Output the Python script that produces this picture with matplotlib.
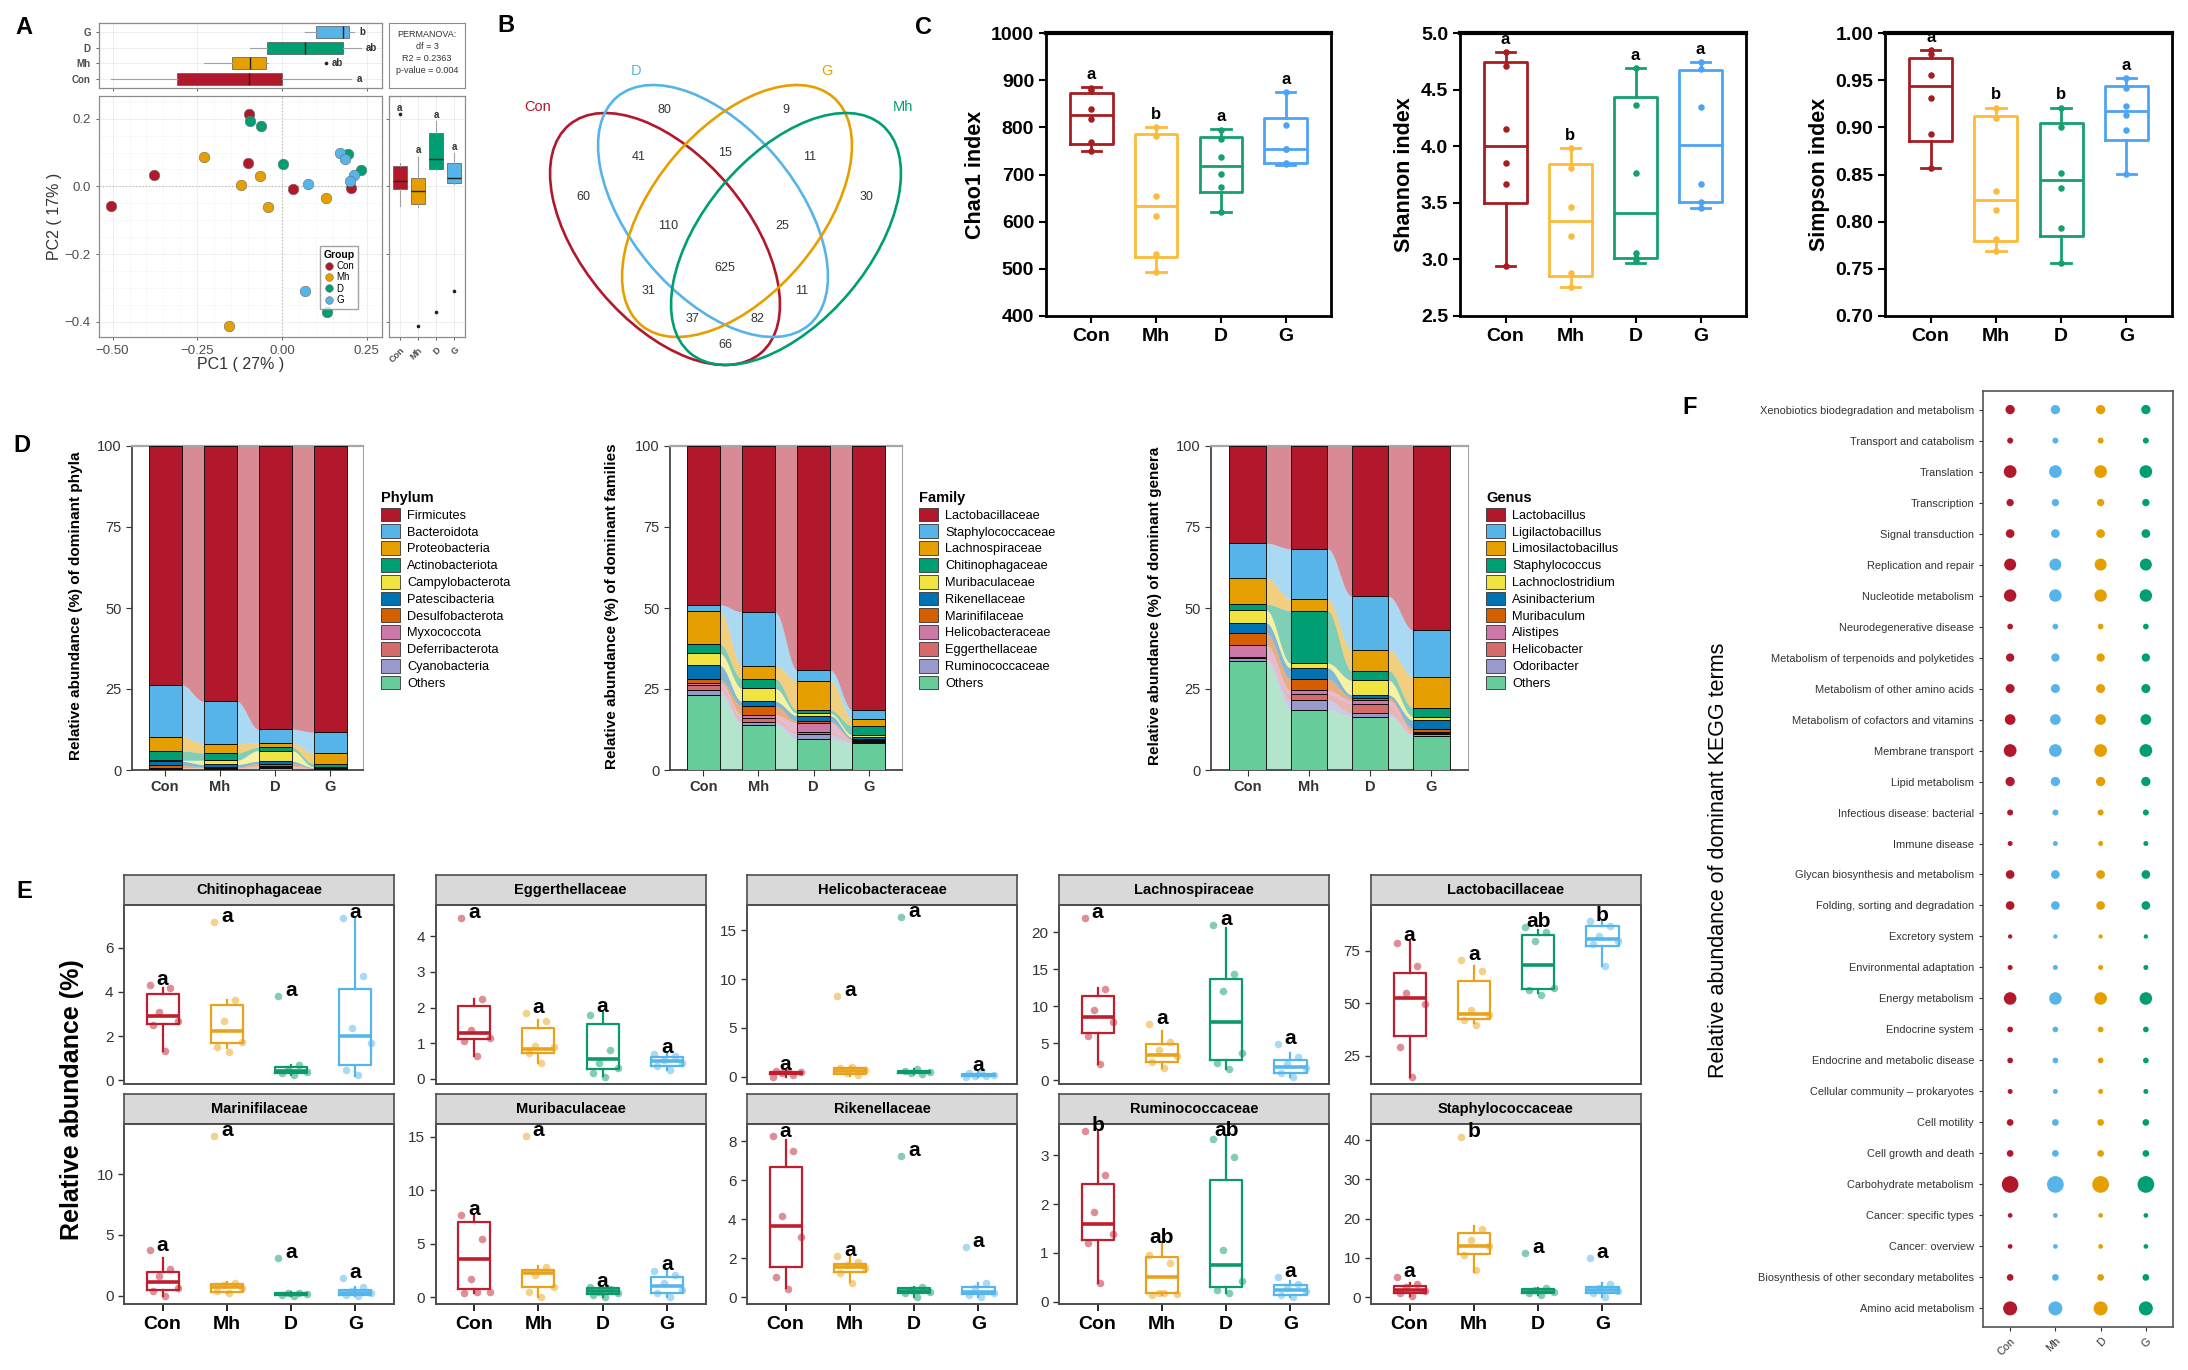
import numpy as np
import matplotlib
matplotlib.use("Agg")
import matplotlib.pyplot as plt
from matplotlib.patches import Ellipse, Patch
from matplotlib.lines import Line2D
from matplotlib.ticker import FuncFormatter

W, H = 2188, 1370
GROUPS = ["Con", "Mh", "D", "G"]

# ---------------- A: PCoA scores ----------------
PC1 = {"Con": [-0.097, -0.099, -0.379, -0.504, 0.032, 0.205],
       "Mh": [-0.231, -0.066, -0.120, -0.042, 0.131, -0.157],
       "D": [-0.093, -0.061, 0.004, 0.194, 0.232, 0.133],
       "G": [0.171, 0.186, 0.212, 0.202, 0.078, 0.069]}
PC2 = {"Con": [0.215, 0.070, 0.035, -0.057, -0.007, -0.005],
       "Mh": [0.088, 0.031, 0.004, -0.060, -0.033, -0.413],
       "D": [0.192, 0.179, 0.065, 0.096, 0.047, -0.370],
       "G": [0.098, 0.081, 0.034, 0.016, 0.008, -0.309]}
PC1_SIG = {"Con": "a", "Mh": "ab", "D": "ab", "G": "b"}
PC2_SIG = {"Con": "a", "Mh": "a", "D": "a", "G": "a"}
PERMANOVA = "PERMANOVA:\ndf = 3\nR2 = 0.2363\np-value = 0.004"

# ---------------- B: Venn ----------------
VENN_SETS = ["Con", "D", "G", "Mh"]
VENN_COUNTS = {"Con": 60, "D": 80, "G": 9, "Mh": 30,
               "Con&D": 41, "D&G": 15, "G&Mh": 11, "Con&D&G": 110,
               "D&G&Mh": 25, "all": 625, "Con&G": 31, "D&Mh": 11,
               "Con&G&Mh": 37, "Con&D&Mh": 82, "Con&Mh": 66}

# ---------------- C: alpha diversity (lo, q1, med, q3, hi) ----------------
CHAO1_BOX = [(749, 765, 826, 873, 886), (493, 525, 634, 785, 801),
             (620, 662, 718, 780, 796), (720, 725, 755, 820, 875)]
CHAO1_PTS = [[884, 879, 838, 817, 768, 750], [801, 782, 654, 613, 532, 493],
             [794, 775, 738, 701, 673, 620], [875, 804, 755, 754, 725, 722]]
CHAO1_SIG = ["a", "b", "a", "a"]
SHANNON_BOX = [(2.94, 3.50, 4.006, 4.741, 4.832), (2.76, 2.853, 3.34, 3.847, 3.985),
               (2.97, 3.015, 3.41, 4.435, 4.69), (3.45, 3.51, 4.01, 4.67, 4.74)]
SHANNON_PTS = [[4.83, 4.71, 4.15, 3.85, 3.67, 2.94], [3.98, 3.81, 3.46, 3.21, 2.88, 2.76],
               [4.69, 4.36, 3.76, 3.06, 3.01, 2.99], [4.74, 4.68, 4.35, 3.67, 3.51, 3.45]]
SHANNON_SIG = ["a", "b", "a", "a"]
SIMPSON_BOX = [(0.857, 0.885, 0.944, 0.974, 0.982), (0.769, 0.780, 0.823, 0.912, 0.921),
               (0.756, 0.785, 0.844, 0.905, 0.921), (0.851, 0.887, 0.917, 0.944, 0.952)]
SIMPSON_PTS = [[0.982, 0.978, 0.956, 0.931, 0.893, 0.857], [0.921, 0.910, 0.832, 0.812, 0.782, 0.769],
               [0.921, 0.900, 0.852, 0.836, 0.793, 0.756], [0.952, 0.942, 0.923, 0.913, 0.897, 0.851]]
SIMPSON_SIG = ["a", "b", "b", "a"]

# ---------------- D: composition (%) ----------------
PHYLA = ["Firmicutes", "Bacteroidota", "Proteobacteria", "Actinobacteriota",
         "Campylobacterota", "Patescibacteria", "Desulfobacterota", "Myxococcota",
         "Deferribacterota", "Cyanobacteria", "Others"]
PHYLUM_ABUND = {"Con": [73.7, 16.0, 4.4, 2.9, 0.3, 1.2, 0.9, 0.1, 0.2, 0.1, 0.2],
                "Mh": [78.8, 13.1, 2.8, 2.3, 1.3, 0.8, 0.3, 0.1, 0.1, 0.1, 0.3],
                "D": [87.4, 4.3, 1.3, 1.0, 3.3, 0.7, 0.8, 0.2, 0.3, 0.1, 0.6],
                "G": [88.3, 6.5, 3.2, 1.0, 0.2, 0.2, 0.1, 0.1, 0.1, 0.1, 0.2]}
FAMILIES = ["Lactobacillaceae", "Staphylococcaceae", "Lachnospiraceae", "Chitinophagaceae",
            "Muribaculaceae", "Rikenellaceae", "Marinifilaceae", "Helicobacteraceae",
            "Eggerthellaceae", "Ruminococcaceae", "Others"]
FAMILY_ABUND = {"Con": [49.0, 2.0, 10.2, 2.8, 3.7, 4.3, 1.0, 0.7, 1.6, 1.5, 23.2],
                "Mh": [51.2, 16.6, 4.0, 3.0, 4.0, 1.4, 2.8, 1.0, 1.2, 0.8, 14.0],
                "D": [69.2, 3.3, 9.0, 1.0, 0.7, 1.8, 0.5, 2.7, 0.8, 1.5, 9.5],
                "G": [81.5, 2.9, 2.0, 2.8, 0.7, 0.6, 0.3, 0.2, 0.5, 0.3, 8.2]}
GENERA = ["Lactobacillus", "Ligilactobacillus", "Limosilactobacillus", "Staphylococcus",
          "Lachnoclostridium", "Asinibacterium", "Muribaculum", "Alistipes",
          "Helicobacter", "Odoribacter", "Others"]
GENUS_ABUND = {"Con": [30.0, 10.8, 8.0, 1.8, 4.0, 3.1, 3.7, 3.6, 0.4, 1.1, 33.5],
               "Mh": [31.7, 15.5, 3.6, 16.2, 1.5, 3.4, 3.5, 1.2, 1.8, 3.0, 18.6],
               "D": [46.4, 16.6, 6.4, 2.9, 4.5, 0.9, 0.8, 1.0, 3.0, 1.0, 16.5],
               "G": [56.8, 14.4, 9.6, 2.7, 1.1, 2.6, 1.0, 0.3, 0.5, 0.4, 10.6]}

# ---------------- E: family boxplots ----------------
E_FAMILIES = ["Chitinophagaceae", "Eggerthellaceae", "Helicobacteraceae", "Lachnospiraceae",
              "Lactobacillaceae", "Marinifilaceae", "Muribaculaceae", "Rikenellaceae",
              "Ruminococcaceae", "Staphylococcaceae"]
E_BOX = {
    "Chitinophagaceae": [(1.32, 2.55, 2.92, 3.92, 4.2), (1.44, 1.70, 2.22, 3.42, 3.65),
                         (0.23, 0.30, 0.42, 0.58, 0.68), (0.18, 0.68, 2.0, 4.15, 7.37)],
    "Eggerthellaceae": [(0.65, 1.13, 1.28, 2.03, 2.24), (0.44, 0.72, 0.84, 1.44, 1.66),
                        (0.08, 0.27, 0.56, 1.55, 1.89), (0.25, 0.37, 0.49, 0.61, 0.72)],
    "Helicobacteraceae": [(0.0, 0.25, 0.4, 0.5, 0.65), (0.1, 0.25, 0.55, 0.85, 1.0),
                          (0.25, 0.35, 0.45, 0.6, 0.75), (0.0, 0.05, 0.15, 0.3, 0.45)],
    "Lachnospiraceae": [(2.2, 6.33, 8.6, 11.4, 12.4), (1.58, 2.49, 3.39, 4.84, 6.7),
                        (1.45, 2.71, 7.92, 13.7, 20.6), (0.36, 0.90, 1.81, 2.71, 3.6)],
    "Lactobacillaceae": [(15.0, 34.4, 52.2, 64.3, 79.5), (40.4, 42.4, 44.9, 60.4, 67.8),
                         (54.8, 56.8, 68.3, 82.2, 84.7), (67.8, 77.1, 80.3, 86.6, 89.0)],
    "Marinifilaceae": [(0.0, 0.49, 1.18, 2.0, 3.1), (0.22, 0.36, 0.77, 0.99, 1.18),
                       (0.0, 0.08, 0.16, 0.27, 0.3), (0.0, 0.08, 0.27, 0.49, 0.77)],
    "Muribaculaceae": [(0.37, 0.78, 3.56, 7.03, 7.7), (0.06, 1.0, 2.25, 2.56, 2.88),
                       (0.06, 0.31, 0.63, 0.84, 1.0), (0.06, 0.37, 1.06, 1.94, 2.56)],
    "Rikenellaceae": [(0.46, 1.58, 3.66, 6.71, 8.08), (0.80, 1.32, 1.54, 1.71, 2.09),
                      (0.03, 0.21, 0.34, 0.50, 0.51), (0.03, 0.17, 0.29, 0.55, 0.75)],
    "Ruminococcaceae": [(0.38, 1.27, 1.59, 2.42, 3.49), (0.14, 0.17, 0.51, 0.92, 1.2),
                        (0.17, 0.29, 0.74, 2.49, 3.39), (0.10, 0.14, 0.24, 0.34, 0.43)],
    "Staphylococcaceae": [(0.34, 1.0, 1.86, 2.9, 3.56), (6.5, 11.0, 13.0, 16.4, 18.0),
                          (0.6, 1.0, 1.44, 2.0, 2.3), (0.17, 1.0, 1.86, 2.7, 3.56)],
}
E_PTS = {
    "Chitinophagaceae": [[4.3, 4.18, 3.1, 2.66, 2.5, 1.32], [7.19, 3.65, 2.7, 1.75, 1.52, 1.29],
                         [3.83, 0.68, 0.49, 0.38, 0.30, 0.23], [7.37, 4.74, 2.36, 1.67, 0.46, 0.23]],
    "Eggerthellaceae": [[4.52, 2.24, 1.36, 1.14, 1.05, 0.63], [1.85, 1.61, 0.93, 0.89, 0.72, 0.44],
                        [1.80, 0.80, 0.44, 0.30, 0.16, 0.05], [0.70, 0.63, 0.53, 0.44, 0.35, 0.25]],
    "Helicobacteraceae": [[0.0, 0.2, 0.35, 0.45, 0.55, 0.65], [8.3, 0.15, 0.4, 0.7, 0.9, 1.0],
                          [16.4, 0.25, 0.4, 0.5, 0.6, 0.75], [0.0, 0.05, 0.1, 0.2, 0.35, 0.55]],
    "Lachnospiraceae": [[21.9, 12.3, 9.5, 7.8, 5.9, 2.2], [7.6, 5.2, 4.0, 3.2, 2.5, 1.6],
                        [21.0, 14.3, 12.1, 3.7, 2.26, 1.45], [4.84, 3.17, 2.17, 1.58, 0.9, 0.36]],
    "Lactobacillaceae": [[78.7, 67.5, 54.8, 49.7, 29.3, 15.0], [70.4, 65.1, 46.8, 44.4, 42.0, 39.6],
                         [86.3, 83.8, 79.5, 57.2, 56.1, 54.0], [89.0, 86.6, 81.8, 79.5, 77.9, 67.8]],
    "Marinifilaceae": [[3.73, 2.19, 1.64, 0.63, 0.44, 0.0], [13.1, 1.1, 0.9, 0.63, 0.44, 0.22],
                       [3.1, 0.27, 0.22, 0.16, 0.08, 0.0], [1.45, 0.77, 0.44, 0.22, 0.08, 0.0]],
    "Muribaculaceae": [[7.72, 5.44, 1.69, 0.53, 0.37, 0.45], [15.1, 2.8, 2.1, 1.0, 0.53, 0.06],
                       [1.0, 0.75, 0.53, 0.37, 0.22, 0.06], [2.5, 2.1, 1.31, 0.69, 0.37, 0.06]],
    "Rikenellaceae": [[8.25, 7.48, 4.18, 3.07, 1.06, 0.41], [2.12, 1.83, 1.66, 1.49, 1.23, 0.75],
                      [7.23, 0.51, 0.38, 0.29, 0.21, 0.03], [2.57, 0.75, 0.46, 0.21, 0.12, 0.03]],
    "Ruminococcaceae": [[3.49, 2.60, 1.83, 1.39, 1.21, 0.38], [0.96, 0.79, 0.17, 0.16, 0.14, 0.17],
                        [3.34, 2.97, 1.05, 0.43, 0.24, 0.17], [0.51, 0.36, 0.27, 0.21, 0.14, 0.10]],
    "Staphylococcaceae": [[5.25, 3.4, 2.7, 1.7, 1.0, 0.34], [40.8, 17.3, 14.6, 12.9, 10.8, 6.9],
                          [11.2, 2.3, 1.86, 1.44, 1.0, 0.6], [9.9, 3.4, 2.3, 1.6, 1.0, 0.17]],
}
E_SIG = {
    "Chitinophagaceae": ["a", "a", "a", "a"], "Eggerthellaceae": ["a", "a", "a", "a"],
    "Helicobacteraceae": ["a", "a", "a", "a"], "Lachnospiraceae": ["a", "a", "a", "a"],
    "Lactobacillaceae": ["a", "a", "ab", "b"], "Marinifilaceae": ["a", "a", "a", "a"],
    "Muribaculaceae": ["a", "a", "a", "a"], "Rikenellaceae": ["a", "a", "a", "a"],
    "Ruminococcaceae": ["b", "ab", "ab", "a"], "Staphylococcaceae": ["a", "b", "a", "a"],
}
E_YLIM = {"Chitinophagaceae": (-0.18, 7.95), "Eggerthellaceae": (-0.14, 4.87),
          "Helicobacteraceae": (-0.76, 17.6), "Lachnospiraceae": (-0.54, 23.7),
          "Lactobacillaceae": (11.5, 96.7), "Marinifilaceae": (-0.66, 14.1),
          "Muribaculaceae": (-0.63, 16.2), "Rikenellaceae": (-0.34, 8.89),
          "Ruminococcaceae": (-0.05, 3.64), "Staphylococcaceae": (-1.7, 44.0)}
E_TICKS = {"Chitinophagaceae": [0, 2, 4, 6], "Eggerthellaceae": [0, 1, 2, 3, 4],
           "Helicobacteraceae": [0, 5, 10, 15], "Lachnospiraceae": [0, 5, 10, 15, 20],
           "Lactobacillaceae": [25, 50, 75], "Marinifilaceae": [0, 5, 10],
           "Muribaculaceae": [0, 5, 10, 15], "Rikenellaceae": [0, 2, 4, 6, 8],
           "Ruminococcaceae": [0, 1, 2, 3], "Staphylococcaceae": [0, 10, 20, 30, 40]}

# ---------------- F: KEGG level 2 (bottom to top) ----------------
KEGG_TERMS = ["Amino acid metabolism", "Biosynthesis of other secondary metabolites",
              "Cancer: overview", "Cancer: specific types", "Carbohydrate metabolism",
              "Cell growth and death", "Cell motility", "Cellular community \u2013 prokaryotes",
              "Endocrine and metabolic disease", "Endocrine system", "Energy metabolism",
              "Environmental adaptation", "Excretory system", "Folding, sorting and degradation",
              "Glycan biosynthesis and metabolism", "Immune disease", "Infectious disease: bacterial",
              "Lipid metabolism", "Membrane transport", "Metabolism of cofactors and vitamins",
              "Metabolism of other amino acids", "Metabolism of terpenoids and polyketides",
              "Neurodegenerative disease", "Nucleotide metabolism", "Replication and repair",
              "Signal transduction", "Transcription", "Translation", "Transport and catabolism",
              "Xenobiotics biodegradation and metabolism"]
KEGG_ABUND = [7.6, 1.74, 0.85, 0.85, 10.8, 1.74, 1.74, 0.97, 1.26, 1.26, 6.1, 0.97, 0.72,
              2.9, 2.93, 0.97, 1.40, 3.35, 6.3, 4.43, 3.14, 2.67, 1.26, 6.0, 5.58, 2.93,
              2.07, 6.25, 1.40, 3.35]

# ---------------- colours ----------------
A_COL = {"Con": "#B2182B", "Mh": "#E69F00", "D": "#009E73", "G": "#56B4E9"}
VENN_COL = {"Con": "#B2182B", "D": "#56B4E9", "G": "#E69F00", "Mh": "#009E73"}
C_COL = ["#A51E22", "#FDBA3B", "#15A06C", "#4DA3F5"]
E_COL = ["#BF1E2E", "#E9A21B", "#0C9A6B", "#55B6EC"]
F_COL = ["#B2182B", "#56B4E9", "#E69F00", "#009E73"]
TAXA_COL = ["#B2182B", "#56B4E9", "#E69F00", "#009E73", "#F0E442", "#0072B2",
            "#D55E00", "#CC79A7", "#D46A6A", "#9999CC", "#66CC99"]

plt.rcParams["font.family"] = ["Liberation Sans", "DejaVu Sans"]


def px_axes(fig, x0, y0, x1, y1):
    return fig.add_axes([x0 / W, 1 - y1 / H, (x1 - x0) / W, (y1 - y0) / H])


def minus_fmt(fmt):
    return FuncFormatter(lambda v, p: format(v, fmt).replace("-", "\u2212"))


def panel_label(fig, x, y, s):
    fig.text(x / W, 1 - y / H, s, fontsize=17, fontweight="bold", ha="center", va="center")


def bw_style(ax):
    for s in ax.spines.values():
        s.set_color("#8C8C8C")
        s.set_linewidth(0.9)
    ax.grid(True, color="#EBEBEB", linewidth=0.6)
    ax.set_axisbelow(True)
    ax.tick_params(colors="#4D4D4D", labelsize=8.5, length=2.5, width=0.6)


def draw_panel_a(fig):
    xlim = (-0.540, 0.295)
    ylim = (-0.445, 0.267)
    pos = np.arange(1, 5)

    top = px_axes(fig, 99, 23, 382, 88)
    bw_style(top)
    for i, g in enumerate(GROUPS):
        top.boxplot([PC1[g]], positions=[pos[i]], orientation="horizontal", widths=0.8,
                    patch_artist=True, showcaps=False,
                    boxprops=dict(facecolor=A_COL[g], edgecolor="#555555", linewidth=0.5),
                    medianprops=dict(color="#222222", linewidth=1.0),
                    whiskerprops=dict(color="#A0A0A0", linewidth=0.8),
                    flierprops=dict(marker="o", markersize=1.6, markerfacecolor="#222222",
                                    markeredgecolor="#222222"))
        top.text(max(PC1[g]) + 0.015, pos[i], PC1_SIG[g], fontsize=7, fontweight="bold",
                 ha="left", va="center", color="#333333")
    top.set_xlim(xlim)
    top.set_ylim(0.4, 4.6)
    top.set_yticks(pos)
    top.set_yticklabels(GROUPS, fontsize=7, fontweight="bold")
    top.set_xticks([-0.5, -0.25, 0, 0.25])
    top.set_xticklabels([])

    perm = px_axes(fig, 389, 23, 465, 88)
    for s in perm.spines.values():
        s.set_color("#8C8C8C")
    perm.set_xticks([])
    perm.set_yticks([])
    perm.text(0.5, 0.55, PERMANOVA, ha="center", va="center", fontsize=6.5,
              linespacing=1.45, color="#333333", transform=perm.transAxes)

    sc = px_axes(fig, 99, 96, 382, 337)
    bw_style(sc)
    sc.minorticks_on()
    sc.grid(True, which="minor", color="#F4F4F4", linewidth=0.4)
    sc.tick_params(which="minor", length=0)
    sc.axhline(0, color="#BDBDBD", linestyle=":", linewidth=0.9, zorder=1)
    sc.axvline(0, color="#BDBDBD", linestyle=":", linewidth=0.9, zorder=1)
    for g in GROUPS:
        sc.scatter(PC1[g], PC2[g], s=58, color=A_COL[g], edgecolor="#6E6E6E",
                   linewidth=0.4, zorder=3)
    sc.set_xlim(xlim)
    sc.set_ylim(ylim)
    sc.set_xticks([-0.5, -0.25, 0, 0.25])
    sc.set_yticks([0.2, 0.0, -0.2, -0.4])
    sc.xaxis.set_major_formatter(minus_fmt(".2f"))
    sc.yaxis.set_major_formatter(minus_fmt(".1f"))
    sc.tick_params(labelsize=9.5)
    sc.set_xlabel("PC1 ( 27% )", fontsize=11.5, color="#333333", labelpad=0)
    sc.set_ylabel("PC2 ( 17% )", fontsize=11.5, color="#333333", labelpad=2)
    handles = [Line2D([], [], marker="o", linestyle="", markersize=5.5, markerfacecolor=A_COL[g],
                      markeredgecolor="#6E6E6E", markeredgewidth=0.4, label=g) for g in GROUPS]
    leg = sc.legend(handles=handles, title="Group", loc="lower right",
                    bbox_to_anchor=(0.934, 0.095), fontsize=7, title_fontsize=7.5,
                    frameon=True, fancybox=False, edgecolor="#8C8C8C", borderpad=0.4,
                    handletextpad=0.1, labelspacing=0.15, handlelength=1.2)
    leg.get_title().set_fontweight("bold")
    leg._legend_box.align = "left"

    rb = px_axes(fig, 389, 96, 465, 337)
    bw_style(rb)
    for i, g in enumerate(GROUPS):
        rb.boxplot([PC2[g]], positions=[pos[i]], widths=0.75, patch_artist=True, showcaps=False,
                   boxprops=dict(facecolor=A_COL[g], edgecolor="#555555", linewidth=0.5),
                   medianprops=dict(color="#222222", linewidth=1.0),
                   whiskerprops=dict(color="#A0A0A0", linewidth=0.8),
                   flierprops=dict(marker="o", markersize=1.6, markerfacecolor="#222222",
                                   markeredgecolor="#222222"))
        rb.text(pos[i], max(PC2[g]) + 0.018, PC2_SIG[g], fontsize=7, fontweight="bold",
                ha="center", va="center", color="#333333")
    rb.set_xlim(0.4, 4.6)
    rb.set_ylim(ylim)
    rb.set_yticks([0.2, 0.0, -0.2, -0.4])
    rb.set_yticklabels([])
    rb.set_xticks(pos)
    rb.set_xticklabels(GROUPS, rotation=45, fontsize=6.5, fontweight="bold",
                       ha="right", rotation_mode="anchor")


def draw_panel_b(fig):
    ax = px_axes(fig, 500, 30, 950, 400)
    ax.set_xlim(500, 950)
    ax.set_ylim(400, 30)
    ax.axis("off")
    centres = {"Con": (665, 239, 50), "D": (713, 211, 50), "G": (737, 211, -50), "Mh": (786, 239, -50)}
    for name in VENN_SETS:
        cx, cy, ang = centres[name]
        ax.add_patch(Ellipse((cx, cy), 298, 166, angle=ang, fill=False,
                             edgecolor=VENN_COL[name], linewidth=1.9))
    name_pos = {"Con": (538, 107), "D": (636, 71), "G": (827, 71), "Mh": (903, 107)}
    for name in VENN_SETS:
        ax.text(*name_pos[name], name, color=VENN_COL[name], fontsize=10.5, ha="center", va="center")
    count_pos = {"Con": (583, 197), "D": (664, 110), "G": (786, 110), "Mh": (867, 197),
                 "Con&D": (639, 157), "D&G": (725, 153), "G&Mh": (810, 157),
                 "Con&D&G": (668, 226), "D&G&Mh": (782, 226), "all": (725, 268),
                 "Con&G": (648, 291), "D&Mh": (802, 291), "Con&G&Mh": (692, 319),
                 "Con&D&Mh": (757, 319), "Con&Mh": (725, 345)}
    for key, n in VENN_COUNTS.items():
        ax.text(*count_pos[key], str(n), fontsize=9, ha="center", va="center", color="#333333")


def draw_alpha(fig, x0, x1, boxes, pts, sig, ylim, yticks, fmt, ylabel):
    ax = px_axes(fig, x0, 33, x1, 316)
    stats = [dict(whislo=b[0], q1=b[1], med=b[2], q3=b[3], whishi=b[4], fliers=[]) for b in boxes]
    pos = np.arange(1, 5)
    rng = ylim[1] - ylim[0]
    for i in range(4):
        c = C_COL[i]
        ax.bxp([stats[i]], positions=[pos[i]], widths=0.66, capwidths=0.3,
               boxprops=dict(color=c, linewidth=2.0), medianprops=dict(color=c, linewidth=2.0),
               whiskerprops=dict(color=c, linewidth=2.0), capprops=dict(color=c, linewidth=2.0))
        ax.scatter([pos[i]] * len(pts[i]), pts[i], s=22, color=c, zorder=4, linewidths=0)
        ax.text(pos[i], boxes[i][4] + 0.045 * rng, sig[i], ha="center", va="center",
                fontsize=12, fontweight="bold")
    ax.set_xlim(0.3, 4.7)
    ax.set_ylim(ylim)
    ax.set_yticks(yticks)
    ax.yaxis.set_major_formatter(FuncFormatter(lambda v, p: format(v, fmt)))
    ax.set_xticks(pos)
    ax.set_xticklabels(GROUPS)
    for s in ax.spines.values():
        s.set_linewidth(2.0)
        s.set_color("black")
    ax.spines["top"].set_linewidth(3.0)
    ax.tick_params(width=1.5, length=5, labelsize=14)
    for lab in ax.get_xticklabels() + ax.get_yticklabels():
        lab.set_fontweight("bold")
    ax.set_ylabel(ylabel, fontsize=15.5, fontweight="bold", labelpad=4)
    return ax


def draw_stack(fig, x0, x1, taxa, abund, title, ylabel, label_x, leg_x):
    ax = px_axes(fig, x0, 446, x1, 770)
    x = np.arange(1, 5)
    width = 0.6
    vals = np.array([abund[g] for g in GROUPS]).T  # taxa x groups
    bottoms = np.zeros(4)
    lows, highs = [], []
    for k in range(len(taxa) - 1, -1, -1):
        v = vals[k]
        ax.bar(x, v, width, bottom=bottoms, color=TAXA_COL[k], edgecolor="black",
               linewidth=0.6, zorder=3)
        lows.append((k, bottoms.copy()))
        highs.append(bottoms + v)
        bottoms = bottoms + v
    tt = np.linspace(0, 1, 50)
    ease = (1 - np.cos(np.pi * tt)) / 2
    for i in range(3):
        xs = x[i] + width / 2 + (1 - width) * tt
        for (k, lo), hi in zip(lows, highs):
            ylo = lo[i] + (lo[i + 1] - lo[i]) * ease
            yhi = hi[i] + (hi[i + 1] - hi[i]) * ease
            ax.fill_between(xs, ylo, yhi, color=TAXA_COL[k], alpha=0.5, linewidth=0, zorder=2)
    ax.set_xlim(0.4, 4.6)
    ax.set_ylim(0, 100)
    ax.set_yticks([0, 25, 50, 75, 100])
    ax.set_xticks(x)
    ax.set_xticklabels(GROUPS, fontweight="bold", fontsize=10.5)
    ax.tick_params(labelsize=10.5, length=4, width=0.8, colors="#333333")
    for lab in ax.get_xticklabels():
        lab.set_fontweight("bold")
    ax.spines["left"].set_color("#444444")
    ax.spines["bottom"].set_color("#444444")
    ax.spines["left"].set_linewidth(1.3)
    ax.spines["bottom"].set_linewidth(1.3)
    ax.spines["top"].set_color("#A6A6A6")
    ax.spines["right"].set_color("#A6A6A6")
    ax.spines["top"].set_linewidth(1.6)
    fig.text(label_x / W, 1 - 606 / H, ylabel, rotation=90, fontsize=11, fontweight="bold",
             ha="center", va="center")
    handles = [Patch(facecolor=TAXA_COL[k], edgecolor="#333333", linewidth=0.6, label=t)
               for k, t in enumerate(taxa)]
    leg = fig.legend(handles=handles, title=title, loc="upper left",
                     bbox_to_anchor=(leg_x / W, 1 - 491 / H), frameon=False, fontsize=9.2,
                     title_fontsize=10.5, borderpad=0, borderaxespad=0, handlelength=1.45,
                     handleheight=1.3, labelspacing=0.2, handletextpad=0.6)
    leg.get_title().set_fontweight("bold")
    leg._legend_box.align = "left"


def draw_family_box(fig, fam, x0, y_strip, y0, y1, bottom_row):
    st = px_axes(fig, x0, y_strip, x0 + 270, y0)
    st.set_facecolor("#D9D9D9")
    st.set_xticks([])
    st.set_yticks([])
    for s in st.spines.values():
        s.set_color("#4D4D4D")
        s.set_linewidth(1.2)
    st.text(0.5, 0.5, fam, ha="center", va="center", fontsize=10.5, fontweight="bold",
            transform=st.transAxes)

    ax = px_axes(fig, x0, y0, x0 + 270, y1)
    pos = np.arange(1, 5)
    jitter = np.array([-0.2, 0.12, -0.05, 0.24, -0.15, 0.04])
    lo_, hi_ = E_YLIM[fam]
    rng = hi_ - lo_
    for i in range(4):
        b = E_BOX[fam][i]
        c = E_COL[i]
        st_ = dict(whislo=b[0], q1=b[1], med=b[2], q3=b[3], whishi=b[4], fliers=[])
        ax.bxp([st_], positions=[pos[i]], widths=0.5, showcaps=False,
               boxprops=dict(color=c, linewidth=1.6), medianprops=dict(color=c, linewidth=2.6),
               whiskerprops=dict(color=c, linewidth=1.6))
        p = E_PTS[fam][i]
        ax.scatter(pos[i] + jitter[:len(p)], p, s=30, color=c, alpha=0.5, linewidths=0, zorder=4)
        top = max(max(p), b[4])
        ax.text(pos[i], top + 0.03 * rng, E_SIG[fam][i], ha="center", va="center",
                fontsize=15, fontweight="bold", zorder=5)
    ax.set_xlim(0.4, 4.6)
    ax.set_ylim(E_YLIM[fam])
    ax.set_yticks(E_TICKS[fam])
    ax.tick_params(axis="y", labelsize=11, length=4, width=1.0, colors="#333333")
    for s in ax.spines.values():
        s.set_color("#4D4D4D")
        s.set_linewidth(1.4)
    ax.set_xticks(pos)
    if bottom_row:
        ax.set_xticklabels(GROUPS, fontsize=14, fontweight="bold")
        ax.tick_params(axis="x", length=5, width=1.2)
    else:
        ax.set_xticklabels([])
        ax.tick_params(axis="x", length=0)


def draw_panel_f(fig):
    ax = px_axes(fig, 1983, 391, 2173, 1327)
    y = np.arange(1, len(KEGG_TERMS) + 1)
    ab = np.array(KEGG_ABUND)
    for j in range(4):
        ax.scatter(np.full(len(y), j + 1), y, s=13.4 * ab, color=F_COL[j], linewidths=0, zorder=3)
    ax.set_xlim(0.4, 4.6)
    ax.set_ylim(0.4, len(KEGG_TERMS) + 0.6)
    ax.set_yticks(y)
    ax.set_yticklabels(KEGG_TERMS, fontsize=7.9, color="#333333")
    ax.set_xticks(np.arange(1, 5))
    ax.set_xticklabels(GROUPS, rotation=45, fontsize=7.9, ha="right", rotation_mode="anchor",
                       color="#333333")
    ax.tick_params(length=3, width=0.8, colors="#333333")
    for s in ax.spines.values():
        s.set_color("#555555")
        s.set_linewidth(1.2)
    fig.text(1718 / W, 1 - 860 / H, "Relative abundance of dominant KEGG terms", rotation=90,
             fontsize=15.5, ha="center", va="center")


def main():
    fig = plt.figure(figsize=(W / 100, H / 100), dpi=100)

    draw_panel_a(fig)
    draw_panel_b(fig)
    draw_alpha(fig, 1046, 1331, CHAO1_BOX, CHAO1_PTS, CHAO1_SIG, (400, 1000),
               np.arange(400, 1001, 100), ".0f", "Chao1 index")
    draw_alpha(fig, 1460, 1746, SHANNON_BOX, SHANNON_PTS, SHANNON_SIG, (2.5, 5.0),
               np.arange(2.5, 5.01, 0.5), ".1f", "Shannon index")
    draw_alpha(fig, 1885, 2172, SIMPSON_BOX, SIMPSON_PTS, SIMPSON_SIG, (0.70, 1.00),
               np.arange(0.70, 1.001, 0.05), ".2f", "Simpson index")

    draw_stack(fig, 132, 363, PHYLA, PHYLUM_ABUND, "Phylum",
               "Relative abundance (%) of dominant phyla", 76, 381)
    draw_stack(fig, 670, 902, FAMILIES, FAMILY_ABUND, "Family",
               "Relative abundance (%) of dominant families", 612, 919)
    draw_stack(fig, 1211, 1468, GENERA, GENUS_ABUND, "Genus",
               "Relative abundance (%) of dominant genera", 1155, 1486)

    lefts = [124, 435.5, 747, 1059, 1371]
    for n, fam in enumerate(E_FAMILIES):
        row, col = divmod(n, 5)
        if row == 0:
            draw_family_box(fig, fam, lefts[col], 875, 905, 1084, False)
        else:
            draw_family_box(fig, fam, lefts[col], 1094, 1124, 1304, True)
    fig.text(72 / W, 1 - 1100 / H, "Relative abundance (%)", rotation=90, fontsize=18,
             fontweight="bold", ha="center", va="center")

    draw_panel_f(fig)

    for s, x, y in [("A", 24, 27), ("B", 506, 26), ("C", 923, 27), ("D", 22, 445),
                    ("E", 24, 892), ("F", 1690, 408)]:
        panel_label(fig, x, y, s)

    fig.savefig("out.png", dpi=100)
    plt.close(fig)


if __name__ == "__main__":
    main()
